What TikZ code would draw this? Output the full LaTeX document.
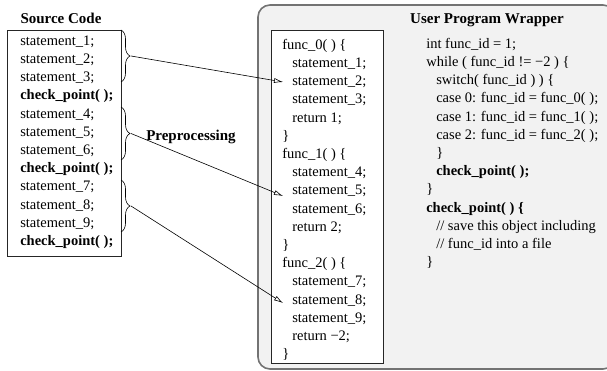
\documentclass[tikz,border=0pt]{standalone}
\usepackage{fontspec}
\setmainfont{Liberation Serif}
\usetikzlibrary{arrows.meta, decorations.pathreplacing}

\begin{document}
\begin{tikzpicture}[x=1pt, y=-1pt, semithick]
			\tikzset{
			    codeline/.style= {anchor=west, inner sep=0pt, text height=10pt, text depth=3.5pt, font=\fontsize{14.5}{17}\selectfont},
			    boxtitle/.style= {inner sep=0pt, font=\fontsize{15}{18}\selectfont\bfseries},
			    codebox/.style= {draw=black!85, fill=white, line width=0.9pt, inner sep=0pt},
			    wrapbox/.style= {draw=black!55, fill=black!5, line width=1.6pt, rounded corners=12pt, inner sep=0pt},
			    sbrace/.style= {decorate, decoration={brace, amplitude=9pt}, line width=0.6pt},
			    parrow/.style= {-{Latex[open, length=9pt, width=5pt]}, line width=0.6pt},
			}
			\useasboundingbox (0,0) rectangle (607,371);
			\clip (0,0) rectangle (607,371);
			
			% boxes
			\node[wrapbox, minimum width=357, minimum height=364] (wrap) at (436.5,187) {};
			\node[codebox, minimum width=114, minimum height=226] (src) at (64,143) {};
			\node[codebox, minimum width=112, minimum height=333] (funcs) at (327,196.5) {};
			
			\node[boxtitle] (srctitle) at (61,18) {Source Code};
			\node[boxtitle] (wraptitle) at (487,20) {User Program Wrapper};
			\node[boxtitle] (prep) at (191,137) {Preprocessing};
			
			% source code lines
			\foreach \k in {0,1,2} {
			    \foreach \j in {1,2,3} {
			        \pgfmathtruncatemacro{\s}{3*\k+\j}
			        \node[codeline] (s-\s) at ({20}, {42+18.2*(4*\k+\j-1)}) {statement\_\s;};
			    }
			    \node[codeline] (cp-\k) at ({20}, {42+18.2*(4*\k+3)}) {\textbf{check\_point( );}};
			}
			
			% generated functions
			\foreach \k/\ret in {0/1, 1/2, 2/\textminus2} {
			    \node[codeline] (fn-\k) at ({282}, {46+18.2*6*\k}) {func\_\k( ) \{};
			    \foreach \j in {1,2,3} {
			        \pgfmathtruncatemacro{\s}{3*\k+\j}
			        \node[codeline] (fs-\s) at ({292}, {46+18.2*(6*\k+\j)}) {statement\_\s;};
			    }
			    \node[codeline] (ret-\k) at ({292}, {46+18.2*(6*\k+4)}) {return \ret;};
			    \node[codeline] (end-\k) at ({282}, {46+18.2*(6*\k+5)}) {\}};
			}
			
			% wrapper code
			\foreach \ind/\txt [count=\i from 0] in {
			    0/{int func\_id = 1;},
			    0/{while ( func\_id != \textminus2 ) \{},
			    1/{switch( func\_id ) ) \{},
			    1/{case 0: func\_id = func\_0( );},
			    1/{case 1: func\_id = func\_1( );},
			    1/{case 2: func\_id = func\_2( );},
			    1/{\}},
			    1/{\textbf{check\_point( );}},
			    0/{\}},
			    0/{\textbf{check\_point( ) \{}},
			    1/{// save this object including},
			    1/{// func\_id into a file},
			    0/{\}}} {
			    \node[codeline] (w-\i) at ({426+10*\ind}, {45+18.2*\i}) {\txt};
			}
			
			% braces and arrows
			\foreach \k/\top/\bot in {0/30/82, 1/107/160, 2/180/232} {
			    \draw[sbrace] (121,\top) -- node[coordinate, right=10pt] (tip-\k) {} (121,\bot);
			}
			\coordinate (tgt-0) at (283,82);
			\coordinate (tgt-1) at (283,196);
			\coordinate (tgt-2) at (283,303);
			
			\draw[parrow] (tip-0) -- (tgt-0);
			\draw[parrow] (tip-1) -- (tgt-1);
			\draw[parrow] (tip-2) -- (tgt-2);
		\end{tikzpicture}
\end{document}
